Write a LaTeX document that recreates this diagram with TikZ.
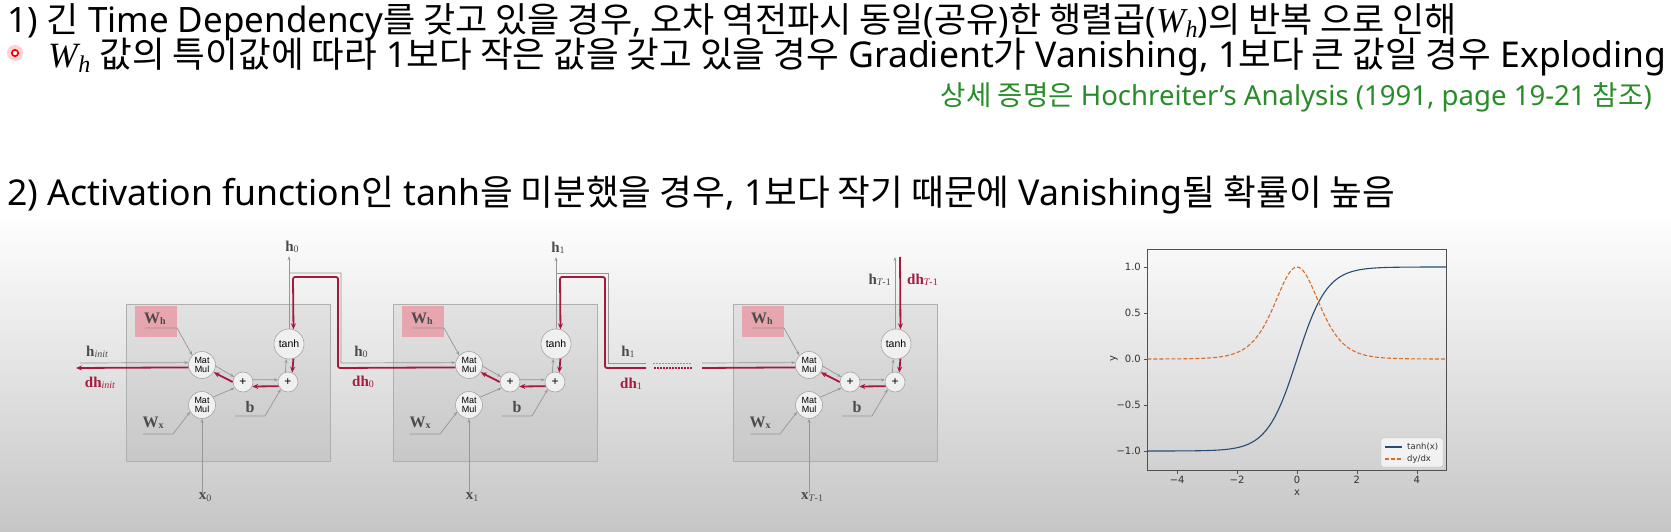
\documentclass[tikz,border=0pt]{standalone}
\usepackage{fontspec}
\setmainfont{Noto Sans}
\newfontfamily\hgf{Noto Sans CJK KR}
\newfontfamily\labfont{Liberation Serif}
\newfontfamily\opfont{Liberation Sans}
\newfontfamily\pltfont{DejaVu Sans}
\usetikzlibrary{arrows.meta}
\definecolor{redc}{RGB}{165,25,60}
\definecolor{glc}{RGB}{150,150,150}
\definecolor{labc}{RGB}{75,75,75}
\definecolor{pinkc}{RGB}{230,165,175}
\definecolor{greenc}{RGB}{40,140,40}
\definecolor{cellbd}{RGB}{175,175,175}
\definecolor{circbd}{RGB}{165,165,165}
\definecolor{circfill}{RGB}{240,240,240}
\definecolor{bgbot}{RGB}{198,198,198}
\definecolor{tanhc}{RGB}{40,75,115}
\definecolor{dydxc}{RGB}{215,110,40}
\definecolor{framec}{RGB}{80,80,80}
\newcommand\hg[1]{{\hgf #1}}
\newlength\natw
\newcommand\fitto[2]{\settowidth\natw{\fontsize{34}{34}\selectfont #2}\pgfmathsetmacro\fsz{(#1/\natw)*34}\fontsize{\fsz}{\fsz}\selectfont #2}
\newcommand\nodepth[1]{\raisebox{0pt}[\height][0pt]{#1}}
\newcommand\bsub[2]{{\labfont\bfseries\fontsize{16}{16}\selectfont #1}\raisebox{-1pt}{\labfont\bfseries\fontsize{10}{10}\selectfont #2}}
\newcommand\hsub[2]{{\labfont\bfseries\fontsize{15}{15}\selectfont #1}\raisebox{-1.5pt}{\labfont\fontsize{10}{10}\selectfont #2}}
\newcommand\WhM{{\labfont\itshape W\kern0.5pt\raisebox{-0.3ex}{\fontsize{24}{24}\selectfont h}}}
\tikzset{
  gline/.style={draw=glc, line width=0.7pt},
  garr/.style={gline, -{Stealth[length=4pt,width=3pt]}},
  rline/.style={draw=redc, line width=1.8pt, rounded corners=2pt},
  rarr/.style={rline, -{Stealth[length=6pt,width=5pt]}},
  cellbox/.style={draw=cellbd, fill=black, fill opacity=0.05, line width=0.8pt},
  whbox/.style={fill=pinkc, minimum width=42pt, minimum height=31pt, inner sep=0pt},
  opc/.style={circle, draw=circbd, fill=circfill, line width=0.6pt, inner sep=0pt},
  mmn/.style={opc, minimum size=27pt, align=center, font=\opfont\fontsize{9}{9.5}\selectfont},
  pln/.style={opc, minimum size=20pt, font=\opfont\fontsize{12}{12}\selectfont},
  thn/.style={opc, minimum size=30pt, font=\opfont\fontsize{10.5}{10.5}\selectfont},
  lab/.style={inner sep=0pt, text=labc},
  rlab/.style={inner sep=0pt, text=redc},
  bigtxt/.style={anchor=base west, inner sep=0pt, font=\fontsize{34}{40}\selectfont},
  tick/.style={draw=framec, line width=0.6pt},
  ticklab/.style={inner sep=0pt, text=black!80, font=\pltfont\fontsize{10}{10}\selectfont},
}
\begin{document}
\begin{tikzpicture}[x=1pt,y=-1pt]
\useasboundingbox (0,0) rectangle (1671,532);
\fill[white] (0,0) rectangle (1671,532);
\shade[top color=white, bottom color=bgbot] (0,212) rectangle (1671,532);

% ---- text ----
\node[bigtxt] (t1) at (7,33) {\nodepth{\fitto{1450}{1) \hg{긴} Time Dependency\hg{를 갖고 있을 경우}, \hg{오차 역전파시 동일}(\hg{공유})\hg{한 행렬곱}(\WhM)\hg{의 반복 으로 인해}}}};
\fill[red!18] (15,53) circle (8);
\draw[red, line width=1.6pt, fill=white] (15,53) circle (3.2);
\node[bigtxt] (t2) at (48,68) {\nodepth{\fitto{1619}{\WhM{} \hg{값의 특이값에 따라} 1\hg{보다 작은 값을 갖고 있을 경우} Gradient\hg{가} Vanishing, 1\hg{보다 큰 값일 경우} Exploding}}};
\node[anchor=base east, inner sep=0pt, text=greenc] (t3) at (1652,106) {\fitto{711}{\hg{상세 증명은} Hochreiter’s Analysis (1991, page 19-21 \hg{참조})}};
\node[bigtxt, font=\fontsize{35.6}{40}\selectfont] (t4) at (7,205) {2) Activation function\hg{인} tanh\hg{을 미분했을 경우}, 1\hg{보다 작기 때문에} Vanishing\hg{될 확률이 높음}};

% ---- cells ----
\foreach \o/\n/\s in {0/1/0,267/2/1,607/3/{\textit{T}-1}}{
  \draw[cellbox] ({\o+126},304) rectangle ({\o+330},461);
  \node[whbox] (whb\n) at ({\o+156},321.5) {};
  \node[lab] (wh\n) at ({\o+155},319) {\bsub{W}{h}};
  \node[mmn] (mt\n) at ({\o+202},365) {Mat\\Mul};
  \node[mmn] (mb\n) at ({\o+202},405) {Mat\\Mul};
  \node[pln] (pa\n) at ({\o+243},382) {+};
  \node[pln] (pb\n) at ({\o+288},382) {+};
  \node[thn] (th\n) at ({\o+289},344) {tanh};
  \node[lab] (wx\n) at ({\o+153},423) {\bsub{W}{x}};
  \node[lab] (b\n) at ({\o+250},407) {{\labfont\bfseries\fontsize{16}{16}\selectfont b}};
  \node[lab] (x\n) at ({\o+205},497) {\hsub{x}{\s}};
  \coordinate (whu\n) at ({\o+145},328);
  \coordinate (whv\n) at ({\o+177},328);
  \coordinate (wxu\n) at ({\o+143},434);
  \coordinate (wxv\n) at ({\o+173},434);
  \coordinate (bu\n) at ({\o+235},416);
  \coordinate (bv\n) at ({\o+265},416);
  \draw[garr] (whu\n) -- (whv\n) -- (mt\n.135);
  \draw[garr] (wxu\n) -- (wxv\n) -- (mb\n.-150);
  \draw[garr] (bu\n) -- (bv\n) -- (pb\n.-135);
  \draw[garr] (mb\n.south |- x\n.north) -- (mb\n.south);
  \draw[garr] (mt\n.-5) -- (pa\n.150);
  \draw[garr] (mb\n.35) -- (pa\n.-145);
  \draw[garr] (pa\n.13) -- (pb\n.168);
  \draw[garr] (pb\n.105) -- (th\n.-100);
  \draw[rarr] (pb\n.-156) -- (pa\n.-26);
  \draw[rarr] (pa\n.180) -- (mt\n.-32);
  \draw[rarr] (th\n.-73) -- (pb\n.66);
}

% ---- left: h_init ----
\node[lab] (hinit) at (97,352) {\hsub{h}{\itshape init}};
\node[rlab] (dhinit) at (100,383) {\hsub{dh}{\itshape init}};
\coordinate (hl) at (80,363);
\coordinate (rl) at (76,368);
\draw[garr] (hl) -- (mt1.170);
\draw[rarr] (mt1.190) -- (rl);

% ---- cell 1 -> cell 2 ----
\node[lab] (hout1) at (292,247) {\hsub{h}{0}};
\draw[garr] (th1.north) -- ([yshift=-3pt]th1.north |- hout1.south);
\coordinate (g11) at (289,273);
\coordinate (g12) at (341,273);
\coordinate (g13) at (341,363);
\draw[garr] (g11) -- (g12) -- (g13) -- (mt2.170);
\coordinate (r11) at (293,277);
\coordinate (r12) at (338,277);
\coordinate (r13) at (338,368);
\draw[rarr] (mt2.190) -- (r13) -- (r12) -- (r11) -- (th1.73);
\node[lab] (h0m) at (361,352) {\hsub{h}{0}};
\node[rlab] (dh0m) at (363,382) {\hsub{dh}{0}};

% ---- cell 2 -> cell 3 ----
\node[lab] (hout2) at (558,248) {\hsub{h}{1}};
\draw[garr] (th2.north) -- ([yshift=-3pt]th2.north |- hout2.south);
\coordinate (g21) at (556,273);
\coordinate (g22) at (608,273);
\coordinate (g23) at (608,363);
\coordinate (g24) at (646,363);
\coordinate (g25) at (653,363);
\coordinate (g26) at (692,363);
\coordinate (g27) at (702,363);
\draw[gline] (g21) -- (g22) -- (g23) -- (g24);
\draw[gline, dash pattern=on 2pt off 1pt] (g25) -- (g26);
\draw[garr] (g27) -- (mt3.170);
\coordinate (r21) at (560,277);
\coordinate (r22) at (605,277);
\coordinate (r23) at (605,368);
\coordinate (r24) at (646,368);
\coordinate (r25) at (653,368);
\coordinate (r26) at (692,368);
\coordinate (r27) at (702,368);
\draw[rline] (mt3.190) -- (r27);
\draw[rline, line width=1.4pt, dash pattern=on 2pt off 1pt] (r26) -- (r25);
\draw[rarr] (r24) -- (r23) -- (r22) -- (r21) -- (th2.73);
\node[lab] (h1m) at (628,352) {\hsub{h}{1}};
\node[rlab] (dh1m) at (631,384) {\hsub{dh}{1}};

% ---- cell 3 top ----
\node[lab, anchor=east] (hT) at (891,280) {\hsub{h}{\itshape T\upshape -1}};
\node[rlab, anchor=west] (dhT) at (907,280) {\hsub{dh}{\itshape T\upshape -1}};
\coordinate (g3t) at (895,257);
\coordinate (r3t) at (900,257);
\draw[garr] (th3.north -| g3t) -- (g3t);
\draw[rarr] (r3t) -- (th3.73);

% ---- plot ----
\draw[framec, line width=0.8pt] (1147.5,249) rectangle (1446.5,470);
\foreach \v/\t in {1/1.0,0.5/0.5,0/0.0,-0.5/−0.5,-1/−1.0}{
  \draw[tick] (1147.5,{359-92*\v}) -- (1144,{359-92*\v});
  \node[ticklab, anchor=east] at (1141,{359-92*\v}) {\t};
}
\foreach \v/\t in {-4/−4,-2/−2,0/0,2/2,4/4}{
  \draw[tick] ({1297+29.95*\v},470) -- ({1297+29.95*\v},473.5);
  \node[ticklab, anchor=north] at ({1297+29.95*\v},476) {\t};
}
\node[ticklab] at (1297,493) {x};
\node[ticklab, rotate=90] at (1114,359) {y};
\draw[tanhc, line width=1.1pt] plot[domain=-5:5, samples=121, smooth] ({1297+29.95*\x},{359-92*tanh(\x)});
\draw[dydxc, line width=1.1pt, dash pattern=on 4pt off 2pt] plot[domain=-5:5, samples=121, smooth] ({1297+29.95*\x},{359-92*(1-tanh(\x)*tanh(\x))});
\draw[rounded corners=2pt, draw=black!25, fill=white, fill opacity=0.7] (1381,438) rectangle (1443,467);
\draw[tanhc, line width=1.1pt] (1385,447) -- (1402,447);
\draw[dydxc, line width=1.1pt, dash pattern=on 4pt off 2pt] (1385,459) -- (1403,459);
\node[ticklab, anchor=west, font=\pltfont\fontsize{8.5}{8.5}\selectfont] at (1407,447) {tanh(x)};
\node[ticklab, anchor=west, font=\pltfont\fontsize{8.5}{8.5}\selectfont] at (1407,459) {dy/dx};
\end{tikzpicture}
\end{document}
